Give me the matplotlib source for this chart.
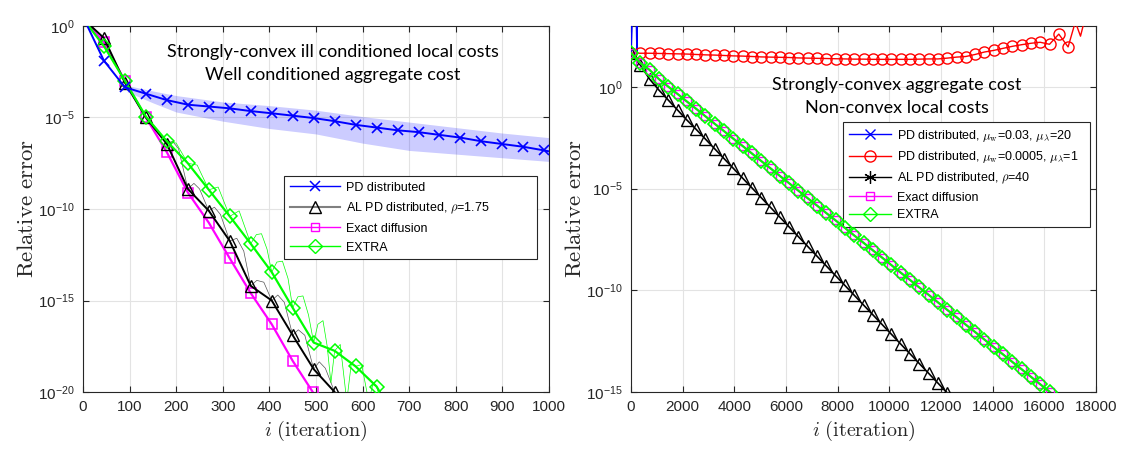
import numpy as np
import matplotlib
matplotlib.use("Agg")
import matplotlib.pyplot as plt
from matplotlib.lines import Line2D

plt.rcParams['font.family'] = ['Liberation Sans', 'DejaVu Sans']
plt.rcParams['mathtext.fontset'] = 'cm'

# ---------------- Left panel data (log10 of relative error) ----------------
pd_x = [0, 45, 90, 135, 180, 225, 270, 315, 360, 405, 450, 495, 540, 585, 630,
        675, 720, 765, 810, 855, 900, 945, 990, 1000]
pd_log = [0.5, -1.9, -3.35, -3.7, -4.05, -4.3, -4.4, -4.5, -4.65, -4.77, -4.9,
          -5.03, -5.2, -5.4, -5.55, -5.7, -5.8, -5.95, -6.1, -6.3, -6.45, -6.6,
          -6.8, -6.85]
band_x = [95, 150, 200, 300, 400, 500, 600, 700, 800, 900, 1000]
band_hi = [-3.25, -3.55, -3.8, -4.15, -4.35, -4.6, -4.95, -5.25, -5.55, -5.85, -6.1]
band_lo = [-3.6, -4.2, -4.7, -5.2, -5.6, -5.9, -6.4, -6.8, -7.0, -7.2, -7.4]

al_x = [0, 45, 90, 135, 180, 225, 270, 315, 360, 405, 450, 495, 540, 560]
al_log = [0.4, -0.66, -3.1, -5.0, -6.45, -8.9, -10.1, -11.75, -14.2, -15.0,
          -16.9, -18.75, -20.0, -21.0]
al_thin_x = [0, 45, 90, 135, 180, 192, 205, 225, 238, 250, 270, 282, 295, 315,
             330, 345, 360, 373, 388, 405, 418, 432, 450, 462, 476, 495, 507,
             520, 540, 560]
al_thin_log = [0.4, -0.66, -3.1, -5.0, -6.45, -6.3, -6.7, -8.9, -8.6, -8.9,
               -10.1, -9.9, -10.3, -11.75, -11.6, -12.3, -14.2, -13.9, -14.0,
               -15.0, -14.7, -15.1, -16.9, -16.6, -16.9, -18.75, -18.35, -18.7,
               -20.0, -21.0]

ed_x = [0, 45, 90, 135, 180, 225, 270, 315, 360, 405, 450, 493, 510]
ed_log = [0.4, -0.9, -3.0, -5.0, -6.9, -9.1, -10.75, -12.7, -14.6, -16.3,
          -18.3, -20.0, -20.8]

ex_x = [0, 45, 90, 135, 180, 225, 270, 315, 360, 405, 450, 495, 540, 585,
        630, 660]
ex_log = [0.4, -1.1, -3.0, -4.95, -6.3, -7.5, -8.95, -10.4, -11.9, -13.45,
          -15.4, -17.3, -17.75, -18.6, -19.7, -21.0]
ex_thin_x = [0, 45, 90, 135, 180, 200, 225, 245, 270, 290, 315, 335, 360, 372,
             383, 395, 405, 416, 428, 440, 450, 461, 472, 484, 495, 504, 515,
             524, 532, 540, 552, 566, 576, 585, 598, 613, 622, 630, 645]
ex_thin_log = [0.4, -1.1, -3.0, -4.95, -6.3, -6.4, -7.5, -7.6, -8.95, -8.8,
               -10.4, -10.1, -11.9, -11.4, -11.35, -12.2, -13.45, -12.9, -12.85,
               -13.8, -15.4, -14.8, -14.75, -15.8, -17.3, -16.3, -16.1, -17.5,
               -19.5, -17.75, -17.4, -20.5, -18.4, -18.6, -18.5, -20.5, -19.6,
               -19.7, -21.0]

# ---------------- Right panel data (log10 of relative error) ----------------
pdb_x = [0, 60, 200, 232, 240, 300]
pdb_log = [1.67, 4.0, 4.0, 1.75, 4.0, 4.0]

pdr_x = [0, 360, 720, 1080, 1440, 1800, 2160, 2520, 2880, 3240, 3600, 3960,
         4320, 4680, 5040, 5400, 5760, 6120, 6480, 6840, 7200, 7560, 7920,
         8280, 8640, 9000, 9360, 9720, 10080, 10440, 10800, 11160, 11520,
         11880, 12240, 12600, 12960, 13320, 13680, 14040, 14400, 14760, 15120,
         15480, 15840, 16200, 16560, 16920, 17200, 17400, 17600, 17800]
pdr_log = [1.67, 1.66, 1.66, 1.65, 1.64, 1.63, 1.62, 1.6, 1.58, 1.57, 1.55,
           1.53, 1.52, 1.5, 1.48, 1.47, 1.46, 1.45, 1.43, 1.42, 1.41, 1.4,
           1.39, 1.38, 1.37, 1.37, 1.36, 1.36, 1.36, 1.36, 1.36, 1.37, 1.38,
           1.38, 1.42, 1.47, 1.5, 1.6, 1.72, 1.8, 1.9, 2.0, 2.08, 2.15, 2.2,
           2.1, 2.6, 1.97, 3.2, 2.5, 3.5, 3.5]

alr_x = [0, 360, 720, 1080, 1440, 1800, 2160, 2520, 2880, 3240, 3600, 3960,
         4320, 4680, 5040, 5400, 5760, 6120, 6480, 6840, 7200, 7560, 7920,
         8280, 8640, 9000, 9360, 9720, 10080, 10440, 10800, 11160, 11520,
         11880, 12240, 12500]
alr_log = [1.67, 1.08, 0.39, -0.15, -0.64, -1.13, -1.62, -2.08, -2.56, -3.04,
           -3.52, -4.0, -4.48, -4.96, -5.44, -5.92, -6.4, -6.88, -7.36, -7.84,
           -8.32, -8.8, -9.28, -9.76, -10.24, -10.72, -11.2, -11.68, -12.16,
           -12.64, -13.12, -13.6, -14.08, -14.56, -15.04, -15.4]

exr_x = [0, 360, 720, 1080, 1440, 1800, 2160, 2520, 2880, 3240, 3600, 3960,
         4320, 4680, 5040, 5400, 5760, 6120, 6480, 6840, 7200, 7560, 7920,
         8280, 8640, 9000, 9360, 9720, 10080, 10440, 10800, 11160, 11520,
         11880, 12240, 12600, 12960, 13320, 13680, 14040, 14400, 14760, 15120,
         15480, 15840, 16200, 16500]
exr_log = [1.67, 1.18, 0.84, 0.39, 0.02, -0.34, -0.71, -1.07, -1.44, -1.81,
           -2.17, -2.54, -2.9, -3.27, -3.64, -4.0, -4.37, -4.73, -5.1, -5.47,
           -5.83, -6.2, -6.56, -6.93, -7.3, -7.66, -8.03, -8.39, -8.76, -9.13,
           -9.49, -9.86, -10.22, -10.59, -10.96, -11.32, -11.69, -12.05,
           -12.42, -12.79, -13.15, -13.52, -13.88, -14.25, -14.62, -14.98,
           -15.3]

BLUE, RED, BLACK, MAG, GRN = '#0000FF', '#FF0000', '#000000', '#FF00FF', '#00FF00'
DARK = '#262626'

fig = plt.figure(figsize=(11.25, 4.5), dpi=100)
W, H = 1125.0, 450.0
ax1 = fig.add_axes([83 / W, 1 - 392 / H, (549 - 83) / W, (392 - 26) / H])
ax2 = fig.add_axes([631 / W, 1 - 392 / H, (1096 - 631) / W, (392 - 26) / H])

p = lambda v: np.power(10.0, np.asarray(v, dtype=float))

# ---- left ----
ax1.fill_between(band_x, p(band_lo), p(band_hi), color=BLUE, alpha=0.2,
                 linewidth=0, zorder=2)
ax1.plot(pd_x, p(pd_log), color=BLUE, lw=1.4, marker='x', ms=7, mew=1.2,
         markevery=list(range(1, len(pd_x) - 1)), zorder=6)
ax1.plot(al_thin_x, p(al_thin_log), color='#555555', lw=0.5, zorder=3)
ax1.plot(ed_x, p(ed_log), color=MAG, lw=1.6, marker='s', ms=6.5, mfc='none',
         mew=1.1, markevery=list(range(1, len(ed_x) - 1)), zorder=4)
ax1.plot(al_x, p(al_log), color=BLACK, lw=1.4, marker='^', ms=8, mfc='none',
         mew=1.0, markevery=list(range(1, len(al_x) - 1)), zorder=5)
ax1.plot(ex_thin_x, p(ex_thin_log), color=GRN, lw=0.5, zorder=3)
ax1.plot(ex_x, p(ex_log), color=GRN, lw=1.6, marker='D', ms=7, mfc='none',
         mew=1.1, markevery=list(range(1, len(ex_x) - 1)), zorder=5)

ax1.set_yscale('log')
ax1.set_xlim(0, 1000)
ax1.set_ylim(1e-20, 1e0)
ax1.set_xticks(range(0, 1001, 100))
ax1.set_yticks([1e-20, 1e-15, 1e-10, 1e-5, 1e0])

h1 = [Line2D([], [], color=BLUE, lw=1, marker='x', ms=7, mew=1.1),
      Line2D([], [], color='#808080', lw=1.5, marker='^', ms=8, mfc='none',
             mec=BLACK, mew=1.0),
      Line2D([], [], color=MAG, lw=1, marker='s', ms=6, mfc='none', mew=1.0),
      Line2D([], [], color=GRN, lw=1, marker='D', ms=7, mfc='none', mew=1.0)]
l1 = ["PD distributed", r"AL PD distributed, $\rho$=1.75", "Exact diffusion",
      "EXTRA"]
leg1 = ax1.legend(h1, l1, loc='upper left',
                  bbox_to_anchor=(284 / W, 1 - 176 / H, (537 - 284) / W, 0.0),
                  mode='expand',
                  bbox_transform=fig.transFigure, fontsize=9, handlelength=4,
                  handletextpad=0.5, borderaxespad=0, fancybox=False,
                  framealpha=1, edgecolor=DARK, labelspacing=0.55,
                  borderpad=0.45)
leg1.get_frame().set_linewidth(0.8)

# ---- right ----
ax2.plot(pdb_x, p(pdb_log), color=BLUE, lw=1.2, zorder=4)
ax2.plot(pdr_x, p(pdr_log), color=RED, lw=1.0, marker='o', ms=8, mfc='none',
         mew=1.0, markevery=list(range(0, 48)), zorder=4)
ax2.plot(alr_x, p(alr_log), color=BLACK, lw=1.2, marker='^', ms=8, mfc='none',
         mew=1.0, markevery=list(range(0, len(alr_x) - 1)), zorder=5)
ax2.plot(exr_x, p(exr_log), color=MAG, lw=1.5, marker='s', ms=6, mfc='none',
         mew=1.0, markevery=list(range(0, len(exr_x) - 1)), zorder=5)
ax2.plot(exr_x, p(exr_log), color=GRN, lw=1.5, marker='D', ms=7, mfc='none',
         mew=1.2, markevery=list(range(0, len(exr_x) - 1)), zorder=6)

ax2.set_yscale('log')
ax2.set_xlim(0, 18000)
ax2.set_ylim(1e-15, 1e3)
ax2.set_xticks(range(0, 18001, 2000))
ax2.set_yticks([1e-15, 1e-10, 1e-5, 1e0])

h2 = [Line2D([], [], color=BLUE, lw=1, marker='x', ms=7, mew=1.0),
      Line2D([], [], color=RED, lw=1, marker='o', ms=8, mfc='none', mew=1.0),
      Line2D([], [], color=BLACK, lw=1, marker=(6, 2, 0), ms=9, mew=0.9),
      Line2D([], [], color=MAG, lw=1, marker='s', ms=6, mfc='none', mew=1.0),
      Line2D([], [], color=GRN, lw=1, marker='D', ms=7, mfc='none', mew=1.0)]
l2 = [r"PD distributed, $\mu_{\rm w}$=0.03, $\mu_\lambda$=20",
      r"PD distributed, $\mu_{\rm w}$=0.0005, $\mu_\lambda$=1",
      r"AL PD distributed, $\rho$=40", "Exact diffusion", "EXTRA"]
leg2 = ax2.legend(h2, l2, loc='upper left',
                  bbox_to_anchor=(843 / W, 1 - 122 / H, (1090 - 843) / W, 0.0),
                  mode='expand',
                  bbox_transform=fig.transFigure, fontsize=9, handlelength=3.4,
                  handletextpad=0.5, borderaxespad=0, fancybox=False,
                  framealpha=1, edgecolor=DARK, labelspacing=0.45,
                  borderpad=0.45)
leg2.get_frame().set_linewidth(0.8)

for ax in (ax1, ax2):
    ax.minorticks_off()
    ax.grid(True, color='#e3e3e3', lw=0.8, zorder=0)
    ax.set_axisbelow(True)
    ax.tick_params(direction='in', length=4, width=0.8, top=True, right=True,
                   labelsize=11, colors=DARK, pad=6)
    for s in ax.spines.values():
        s.set_color(DARK)
        s.set_linewidth(0.8)
    ax.set_ylabel(r'$\mathrm{Relative\ error}$', fontsize=16.5, color=DARK,
                  labelpad=0)
    ax.set_xlabel(r'$i\ (\mathrm{iteration})$', fontsize=14.5, color=DARK,
                  labelpad=3)

fig.text(333 / W, 1 - 52 / H, "Strongly-convex ill conditioned local costs",
         family='Lato', fontsize=13, ha='center', va='center', color='black')
fig.text(333 / W, 1 - 75 / H, "Well conditioned aggregate cost",
         family='Lato', fontsize=13, ha='center', va='center', color='black')
fig.text(897 / W, 1 - 85 / H, "Strongly-convex aggregate cost",
         family='Lato', fontsize=13, ha='center', va='center', color='black')
fig.text(897 / W, 1 - 108 / H, "Non-convex local costs",
         family='Lato', fontsize=13, ha='center', va='center', color='black')

fig.savefig('out.png', dpi=100)
